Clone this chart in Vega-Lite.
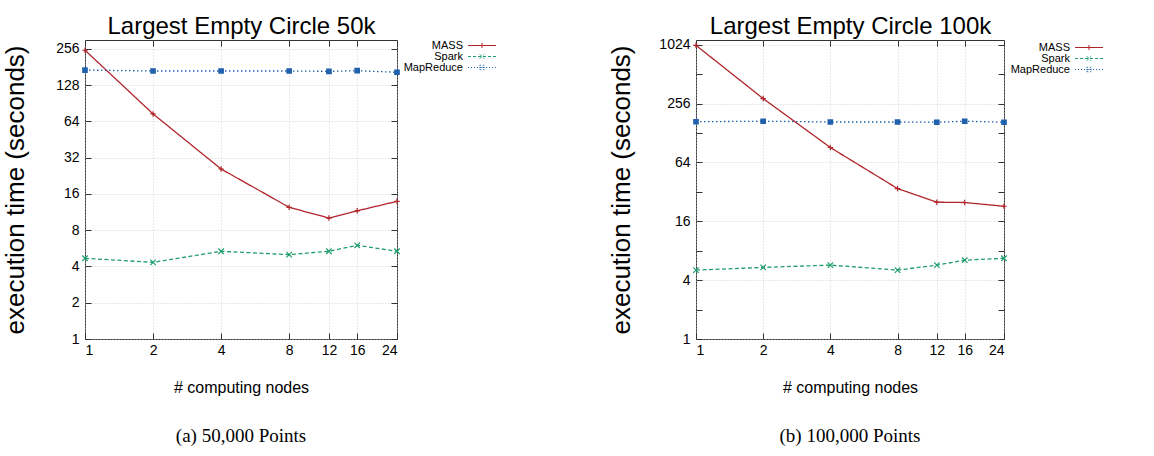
{
  "$schema": "https://vega.github.io/schema/vega-lite/v6.json",
  "padding": {"left": 2, "top": 13, "right": 0, "bottom": 0},
  "background": "white",
  "bounds": "flush",
  "spacing": 299,
  "resolve": {"legend": {"color": "independent"}},
  "config": {
    "font": "Liberation Sans",
    "view": {"stroke": "#333", "strokeWidth": 1},
    "axis": {
      "domain": false,
      "labelFont": "Liberation Sans",
      "labelFontSize": 14,
      "labelColor": "#000",
      "titleFont": "Liberation Sans",
      "titleFontWeight": "normal",
      "titleColor": "#000",
      "tickColor": "#333",
      "tickSize": -6,
      "gridColor": "#c8c8c8",
      "gridDash": [1, 2],
      "gridWidth": 0.8
    },
    "title": {"font": "Liberation Serif", "fontSize": 19, "fontWeight": "normal", "color": "#000"}
  },
  "hconcat": [
    {
      "width": 312,
      "height": 299,
      "title": {"text": "(a) 50,000 Points", "orient": "bottom", "anchor": "middle", "offset": 32},
      "data": {"values": [
        {"nodes": 1, "time": 250, "series": "MASS"},
        {"nodes": 2, "time": 74, "series": "MASS"},
        {"nodes": 4, "time": 25.8, "series": "MASS"},
        {"nodes": 8, "time": 12.4, "series": "MASS"},
        {"nodes": 12, "time": 10.1, "series": "MASS"},
        {"nodes": 16, "time": 11.6, "series": "MASS"},
        {"nodes": 24, "time": 13.9, "series": "MASS"},
        {"nodes": 1, "time": 4.68, "series": "Spark"},
        {"nodes": 2, "time": 4.33, "series": "Spark"},
        {"nodes": 4, "time": 5.35, "series": "Spark"},
        {"nodes": 8, "time": 5.02, "series": "Spark"},
        {"nodes": 12, "time": 5.35, "series": "Spark"},
        {"nodes": 16, "time": 6.0, "series": "Spark"},
        {"nodes": 24, "time": 5.35, "series": "Spark"},
        {"nodes": 1, "time": 171, "series": "MapReduce"},
        {"nodes": 2, "time": 168, "series": "MapReduce"},
        {"nodes": 4, "time": 168, "series": "MapReduce"},
        {"nodes": 8, "time": 168, "series": "MapReduce"},
        {"nodes": 12, "time": 167, "series": "MapReduce"},
        {"nodes": 16, "time": 169, "series": "MapReduce"},
        {"nodes": 24, "time": 164, "series": "MapReduce"}
      ]},
      "layer": [
        {
          "mark": {"type": "line", "strokeWidth": 1.3},
          "encoding": {
            "x": {"field": "nodes", "type": "quantitative",
              "scale": {"type": "log", "domain": [1, 24], "nice": false},
              "axis": {"orient": "bottom", "values": [1, 2, 4, 8, 12, 16, 24], "format": "d", "grid": true,
                "labelPadding": 10, "title": "# computing nodes", "titleFontSize": 16, "titlePadding": 22}},
            "y": {"field": "time", "type": "quantitative",
              "scale": {"type": "log", "base": 2, "domain": [1, 304], "nice": false},
              "axis": {"orient": "left", "values": [1, 2, 4, 8, 16, 32, 64, 128, 256], "format": "d", "grid": true,
                "labelPadding": 12, "title": "execution time (seconds)", "titleFontSize": 26, "titlePadding": 27}},
            "color": {"field": "series", "type": "nominal",
              "scale": {"domain": ["MASS", "Spark", "MapReduce"], "range": ["#b0252b", "#1f9e6c", "#2061ad"]},
              "legend": {
                "orient": "none", "legendX": 310.5, "legendY": 0, "title": null, "padding": 0,
                "labelFont": "Liberation Sans", "labelFontSize": 11, "labelColor": "#000",
                "labelAlign": "right", "labelOffset": -24.5, "symbolOffset": 81,
                "symbolSize": 100, "symbolStrokeWidth": 1, "rowPadding": -2,
                "symbolType": "M-2.8,0H2.8",
                "encode": {"symbols": {"update": {
                  "shape": {"signal": "datum.value === 'MASS' ? 'M-2.8,0H2.8M0,-0.5V0.5' : datum.value === 'Spark' ? 'M-2.8,0H2.8M-0.45,-0.45L0.45,0.45M-0.45,0.45L0.45,-0.45' : 'M-2.8,0H2.8M-0.45,-0.45H0.45V0.45H-0.45ZM-0.45,-0.45L0.45,0.45M-0.45,0.45L0.45,-0.45'"},
                  "strokeDash": {"signal": "datum.value === 'MASS' ? [1, 0] : datum.value === 'Spark' ? [3, 2] : [1, 2]"},
                  "fill": {"value": "transparent"}
                }}}
              }},
            "strokeDash": {"field": "series", "type": "nominal",
              "scale": {"domain": ["MASS", "Spark", "MapReduce"], "range": [[1, 0], [4, 2.5], [1.5, 2.5]]},
              "legend": null}
          }
        },
        {
          "transform": [{"filter": "datum.series === 'MASS'"}],
          "mark": {"type": "point", "shape": "M-1,0H1M0,-1V1", "filled": false, "size": 30, "strokeWidth": 1.2, "opacity": 1, "color": "#b0252b"},
          "encoding": {
            "x": {"field": "nodes", "type": "quantitative",
              "scale": {"type": "log", "domain": [1, 24], "nice": false},
              "axis": {"orient": "top", "values": [1, 2, 4, 8, 12, 16, 24], "labels": false, "grid": false,
                "title": "Largest Empty Circle 50k", "titleFontSize": 24, "titlePadding": 1.5}},
            "y": {"field": "time", "type": "quantitative",
              "scale": {"type": "log", "base": 2, "domain": [1, 304], "nice": false},
              "axis": {"orient": "right", "values": [1, 2, 4, 8, 16, 32, 64, 128, 256], "labels": false, "grid": false, "title": null}}
          }
        },
        {
          "transform": [{"filter": "datum.series === 'Spark'"}],
          "mark": {"type": "point", "shape": "M-1,-1L1,1M-1,1L1,-1", "filled": false, "size": 30, "strokeWidth": 1.2, "opacity": 1, "color": "#1f9e6c"},
          "encoding": {
            "x": {"field": "nodes", "type": "quantitative", "axis": null},
            "y": {"field": "time", "type": "quantitative", "axis": null}
          }
        },
        {
          "transform": [{"filter": "datum.series === 'MapReduce'"}],
          "mark": {"type": "point", "shape": "M-1,-1H1V1H-1ZM-1,-1L1,1M-1,1L1,-1M0,-1V1M-1,0H1", "filled": false, "size": 20, "strokeWidth": 1.2, "opacity": 1, "color": "#2061ad"},
          "encoding": {
            "x": {"field": "nodes", "type": "quantitative", "axis": null},
            "y": {"field": "time", "type": "quantitative", "axis": null}
          }
        }
      ],
      "resolve": {"axis": {"x": "independent", "y": "independent"}}
    },
    {
      "width": 308,
      "height": 299,
      "title": {"text": "(b) 100,000 Points", "orient": "bottom", "anchor": "middle", "offset": 32},
      "data": {"values": [
        {"nodes": 1, "time": 1010, "series": "MASS"},
        {"nodes": 2, "time": 288, "series": "MASS"},
        {"nodes": 4, "time": 91, "series": "MASS"},
        {"nodes": 8, "time": 34.6, "series": "MASS"},
        {"nodes": 12, "time": 25.1, "series": "MASS"},
        {"nodes": 16, "time": 24.9, "series": "MASS"},
        {"nodes": 24, "time": 22.8, "series": "MASS"},
        {"nodes": 1, "time": 5.07, "series": "Spark"},
        {"nodes": 2, "time": 5.4, "series": "Spark"},
        {"nodes": 4, "time": 5.7, "series": "Spark"},
        {"nodes": 8, "time": 5.07, "series": "Spark"},
        {"nodes": 12, "time": 5.7, "series": "Spark"},
        {"nodes": 16, "time": 6.4, "series": "Spark"},
        {"nodes": 24, "time": 6.7, "series": "Spark"},
        {"nodes": 1, "time": 167, "series": "MapReduce"},
        {"nodes": 2, "time": 169, "series": "MapReduce"},
        {"nodes": 4, "time": 166, "series": "MapReduce"},
        {"nodes": 8, "time": 166, "series": "MapReduce"},
        {"nodes": 12, "time": 165, "series": "MapReduce"},
        {"nodes": 16, "time": 169, "series": "MapReduce"},
        {"nodes": 24, "time": 165, "series": "MapReduce"}
      ]},
      "layer": [
        {
          "mark": {"type": "line", "strokeWidth": 1.3},
          "encoding": {
            "x": {"field": "nodes", "type": "quantitative",
              "scale": {"type": "log", "domain": [1, 24], "nice": false},
              "axis": {"orient": "bottom", "values": [1, 2, 4, 8, 12, 16, 24], "format": "d", "grid": true,
                "labelPadding": 10, "title": "# computing nodes", "titleFontSize": 16, "titlePadding": 22}},
            "y": {"field": "time", "type": "quantitative",
              "scale": {"type": "log", "base": 2, "domain": [1, 1145], "nice": false},
              "axis": {"orient": "left", "values": [1, 2, 4, 8, 16, 32, 64, 128, 256, 512, 1024], "format": "d", "grid": true,
                "labelExpr": "indexof([1, 4, 16, 64, 256, 1024], datum.value) >= 0 ? datum.label : ''",
                "gridOpacity": {"condition": {"test": "indexof([1, 4, 16, 64, 256, 1024], datum.value) >= 0", "value": 1}, "value": 0},
                "labelPadding": 12, "title": "execution time (seconds)", "titleFontSize": 26, "titlePadding": 24}},
            "color": {"field": "series", "type": "nominal",
              "scale": {"domain": ["MASS", "Spark", "MapReduce"], "range": ["#b0252b", "#1f9e6c", "#2061ad"]},
              "legend": {
                "orient": "none", "legendX": 306.5, "legendY": 2, "title": null, "padding": 0,
                "labelFont": "Liberation Sans", "labelFontSize": 11, "labelColor": "#000",
                "labelAlign": "right", "labelOffset": -24.5, "symbolOffset": 81,
                "symbolSize": 100, "symbolStrokeWidth": 1, "rowPadding": -2,
                "symbolType": "M-2.8,0H2.8",
                "encode": {"symbols": {"update": {
                  "shape": {"signal": "datum.value === 'MASS' ? 'M-2.8,0H2.8M0,-0.5V0.5' : datum.value === 'Spark' ? 'M-2.8,0H2.8M-0.45,-0.45L0.45,0.45M-0.45,0.45L0.45,-0.45' : 'M-2.8,0H2.8M-0.45,-0.45H0.45V0.45H-0.45ZM-0.45,-0.45L0.45,0.45M-0.45,0.45L0.45,-0.45'"},
                  "strokeDash": {"signal": "datum.value === 'MASS' ? [1, 0] : datum.value === 'Spark' ? [3, 2] : [1, 2]"},
                  "fill": {"value": "transparent"}
                }}}
              }},
            "strokeDash": {"field": "series", "type": "nominal",
              "scale": {"domain": ["MASS", "Spark", "MapReduce"], "range": [[1, 0], [4, 2.5], [1.5, 2.5]]},
              "legend": null}
          }
        },
        {
          "transform": [{"filter": "datum.series === 'MASS'"}],
          "mark": {"type": "point", "shape": "M-1,0H1M0,-1V1", "filled": false, "size": 30, "strokeWidth": 1.2, "opacity": 1, "color": "#b0252b"},
          "encoding": {
            "x": {"field": "nodes", "type": "quantitative",
              "scale": {"type": "log", "domain": [1, 24], "nice": false},
              "axis": {"orient": "top", "values": [1, 2, 4, 8, 12, 16, 24], "labels": false, "grid": false,
                "title": "Largest Empty Circle 100k", "titleFontSize": 24, "titlePadding": 1.5}},
            "y": {"field": "time", "type": "quantitative",
              "scale": {"type": "log", "base": 2, "domain": [1, 1145], "nice": false},
              "axis": {"orient": "right", "values": [1, 2, 4, 8, 16, 32, 64, 128, 256, 512, 1024], "labels": false, "grid": false, "title": null}}
          }
        },
        {
          "transform": [{"filter": "datum.series === 'Spark'"}],
          "mark": {"type": "point", "shape": "M-1,-1L1,1M-1,1L1,-1", "filled": false, "size": 30, "strokeWidth": 1.2, "opacity": 1, "color": "#1f9e6c"},
          "encoding": {
            "x": {"field": "nodes", "type": "quantitative", "axis": null},
            "y": {"field": "time", "type": "quantitative", "axis": null}
          }
        },
        {
          "transform": [{"filter": "datum.series === 'MapReduce'"}],
          "mark": {"type": "point", "shape": "M-1,-1H1V1H-1ZM-1,-1L1,1M-1,1L1,-1M0,-1V1M-1,0H1", "filled": false, "size": 20, "strokeWidth": 1.2, "opacity": 1, "color": "#2061ad"},
          "encoding": {
            "x": {"field": "nodes", "type": "quantitative", "axis": null},
            "y": {"field": "time", "type": "quantitative", "axis": null}
          }
        }
      ],
      "resolve": {"axis": {"x": "independent", "y": "independent"}}
    }
  ]
}
